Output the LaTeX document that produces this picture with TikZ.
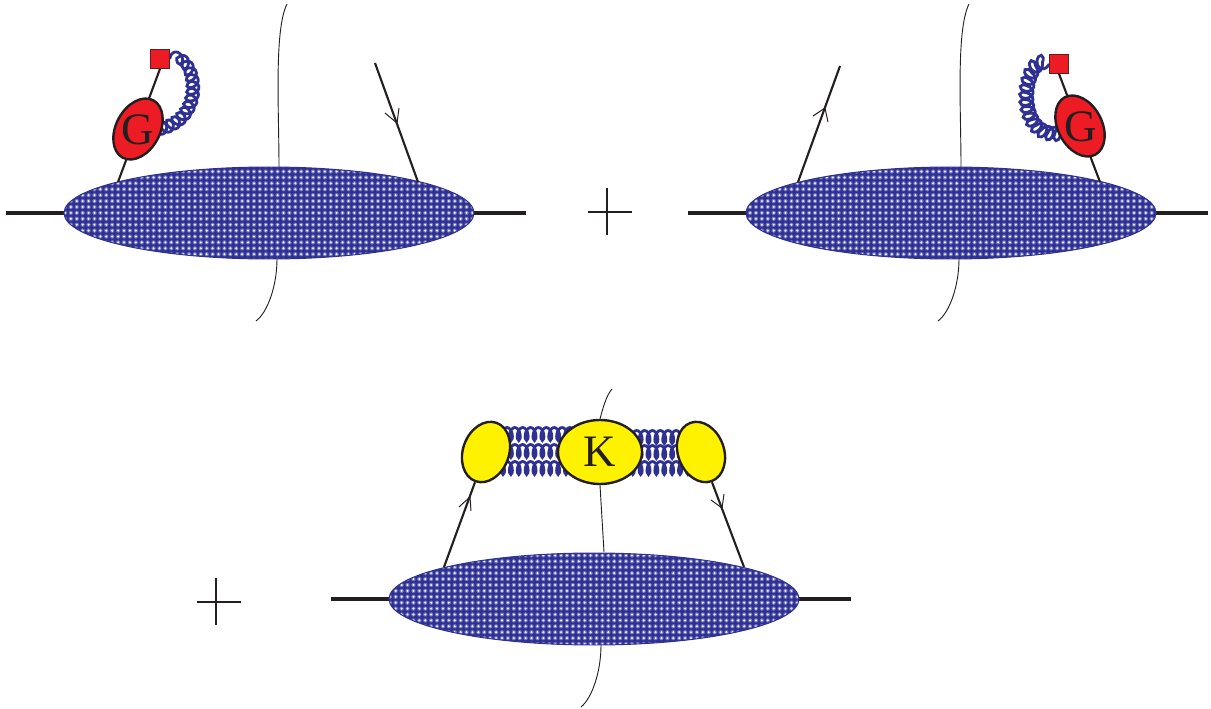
\documentclass[tikz,border=0pt]{standalone}
\usepackage{fontspec}
\setmainfont{Liberation Serif}
\usetikzlibrary{shapes.geometric,decorations.pathmorphing,patterns.meta,calc,backgrounds}
\definecolor{blobblue}{RGB}{46,49,146}
\definecolor{midblue}{RGB}{112,114,186}
\definecolor{dotblue}{RGB}{232,232,248}
\definecolor{softred}{RGB}{237,28,36}
\definecolor{softyellow}{RGB}{255,242,0}
\definecolor{ink}{RGB}{35,31,32}
\newcommand{\loopgluon}[2]{\begin{pgfonlayer}{background}\draw[loopline] #1 .. controls #2;\end{pgfonlayer}}
\newcommand{\ladder}[3]{\begin{pgfonlayer}{background}\draw[ladderline] ($(#1)+(0,#3)$) -- ($(#2)+(0,#3)$);\end{pgfonlayer}}
\newcommand{\bord}[2]{\draw[line width=2.4pt,ink] (#1) -- (#2)}
\newcommand{\quark}[2]{\draw[quarkline] (#1) -- (#2)}
\newcommand{\cut}[4]{\draw[cutline] (#1) .. controls (#2) and (#3) .. (#4)}
\newcommand{\fleche}[3]{\draw[ink,line width=0.7pt] ($(#1)+(#2)$) -- (#1) -- ($(#1)+(#3)$)}
\newcommand{\plusmark}[1]{\draw[ink,line width=0.9pt] ($(#1)+(-22,0)$) -- ($(#1)+(22,0)$);
	\draw[ink,line width=0.9pt] ($(#1)+(-3,-24)$) -- ($(#1)+(-3,23)$)}
\tikzset{
	blob/.style={ellipse,draw=blobblue,line width=0.7pt,minimum width=410*0.025cm,minimum height=92*0.025cm,inner sep=0pt,
		preaction={fill=blobblue},preaction={pattern={Dots[radius=1.55pt,distance=4.2pt]},pattern color=midblue},
		pattern={Dots[radius=0.85pt,distance=4.2pt]},pattern color=dotblue},
	vertex/.style={ellipse,draw=ink,line width=1.7pt,inner sep=0pt,text=ink},
	letter/.style={text=ink,inner sep=0pt,font=\fontsize{32}{32}\selectfont},
	redvertex/.style={vertex,fill=softred,minimum width=65*0.025cm,minimum height=44*0.025cm},
	yellowvertex/.style={vertex,fill=softyellow,minimum width=62*0.025cm,minimum height=46*0.025cm},
	sink/.style={rectangle,draw=ink!70!softred,fill=softred,line width=0.5pt,minimum size=19*0.025cm,inner sep=0pt},
	loopline/.style={draw=blobblue,line width=2pt,decorate,
		decoration={coil,aspect=0.7,segment length=4.9pt,amplitude=4.6pt}},
	ladderline/.style={draw=blobblue,line width=2pt,decorate,
		decoration={coil,aspect=0.5,segment length=5.6pt,amplitude=4.6pt}},
	quarkline/.style={ink,line width=1.5pt},
	cutline/.style={ink,line width=0.65pt}
}

\begin{document}
\begin{tikzpicture}[x=0.025cm,y=-0.025cm]
\useasboundingbox (0,0) rectangle (1211,709);
%First diagram
	\coordinate (la) at (6,213);
	\coordinate (ra) at (526,213);
	\bord{la}{ra};
	\node[blob] (bloba) at (269,213) {};
	\cut{279,167}{279,110}{274,30}{287,4};
	\cut{277,259}{277,285}{268,312}{256,321};
	\coordinate (qa) at (375,63);
	\coordinate (qb) at (418,182);
	\quark{qa}{qb};
	\fleche{397,123}{-12,-10}{2,-15};
	\coordinate (ga) at (118,182);
	\node[sink] (sinka) at (160,59) {};
	\quark{ga}{sinka.south};
	\node[redvertex,rotate=62] (va) at (138,129) {};
	\node[letter] (lettera) at (138,130) {G};
	\loopgluon{(sinka.east)}{(200,56) and (208,135) .. (va.center)}
%Second diagram
	\coordinate (lb) at (688,213);
	\coordinate (rb) at (1208,213);
	\bord{lb}{rb};
	\node[blob] (blobb) at (951,213) {};
	\cut{961,167}{961,110}{956,30}{969,4};
	\cut{959,259}{959,285}{950,312}{938,321};
	\coordinate (qc) at (840,66);
	\coordinate (qd) at (798,182);
	\quark{qc}{qd};
	\fleche{825,108}{-12,8}{3,14};
	\coordinate (gb) at (1100,182);
	\node[sink] (sinkb) at (1059,64) {};
	\quark{gb}{sinkb.south};
	\node[redvertex,rotate=118] (vb) at (1080,126) {};
	\node[letter] (letterb) at (1081,127) {G};
	\loopgluon{(sinkb.west)}{(1018,56) and (1012,160) .. (vb.center)}
%Third diagram
	\coordinate (lc) at (331,599);
	\coordinate (rc) at (851,599);
	\bord{lc}{rc};
	\node[blob] (blobc) at (594,599) {};
	\cut{601,645}{601,672}{592,698}{581,707};
	\node[yellowvertex,rotate=70] (ya) at (486,452) {};
	\node[yellowvertex,rotate=110] (yb) at (701,452) {};
	\node[vertex,fill=softyellow,letter,minimum width=84*0.025cm,minimum height=64*0.025cm] (k) at (600,452) {K};
	\coordinate (ka) at (604,552);
	\coordinate (kb) at (612,389);
	\draw[cutline] (k.south) -- (ka);
	\draw[cutline] (k.north) .. controls (603,408) and (606,396) .. (kb);
	\coordinate (qe) at (444,567);
	\coordinate (qf) at (744,567);
	\quark{qe}{ya.west};
	\quark{qf}{yb.west};
	\fleche{470,497}{-11,10}{1,14};
	\fleche{722,508}{-11,-8}{2,-14};
	\ladder{ya.center}{k.center}{-18}
	\ladder{ya.center}{k.center}{-1}
	\ladder{ya.center}{k.center}{16}
	\ladder{k.center}{yb.center}{-15}
	\ladder{k.center}{yb.center}{0}
	\ladder{k.center}{yb.center}{16}
%Plus signs
	\coordinate (plusa) at (610,212);
	\plusmark{plusa};
	\coordinate (plusb) at (219,602);
	\plusmark{plusb};
\end{tikzpicture}
\end{document}
